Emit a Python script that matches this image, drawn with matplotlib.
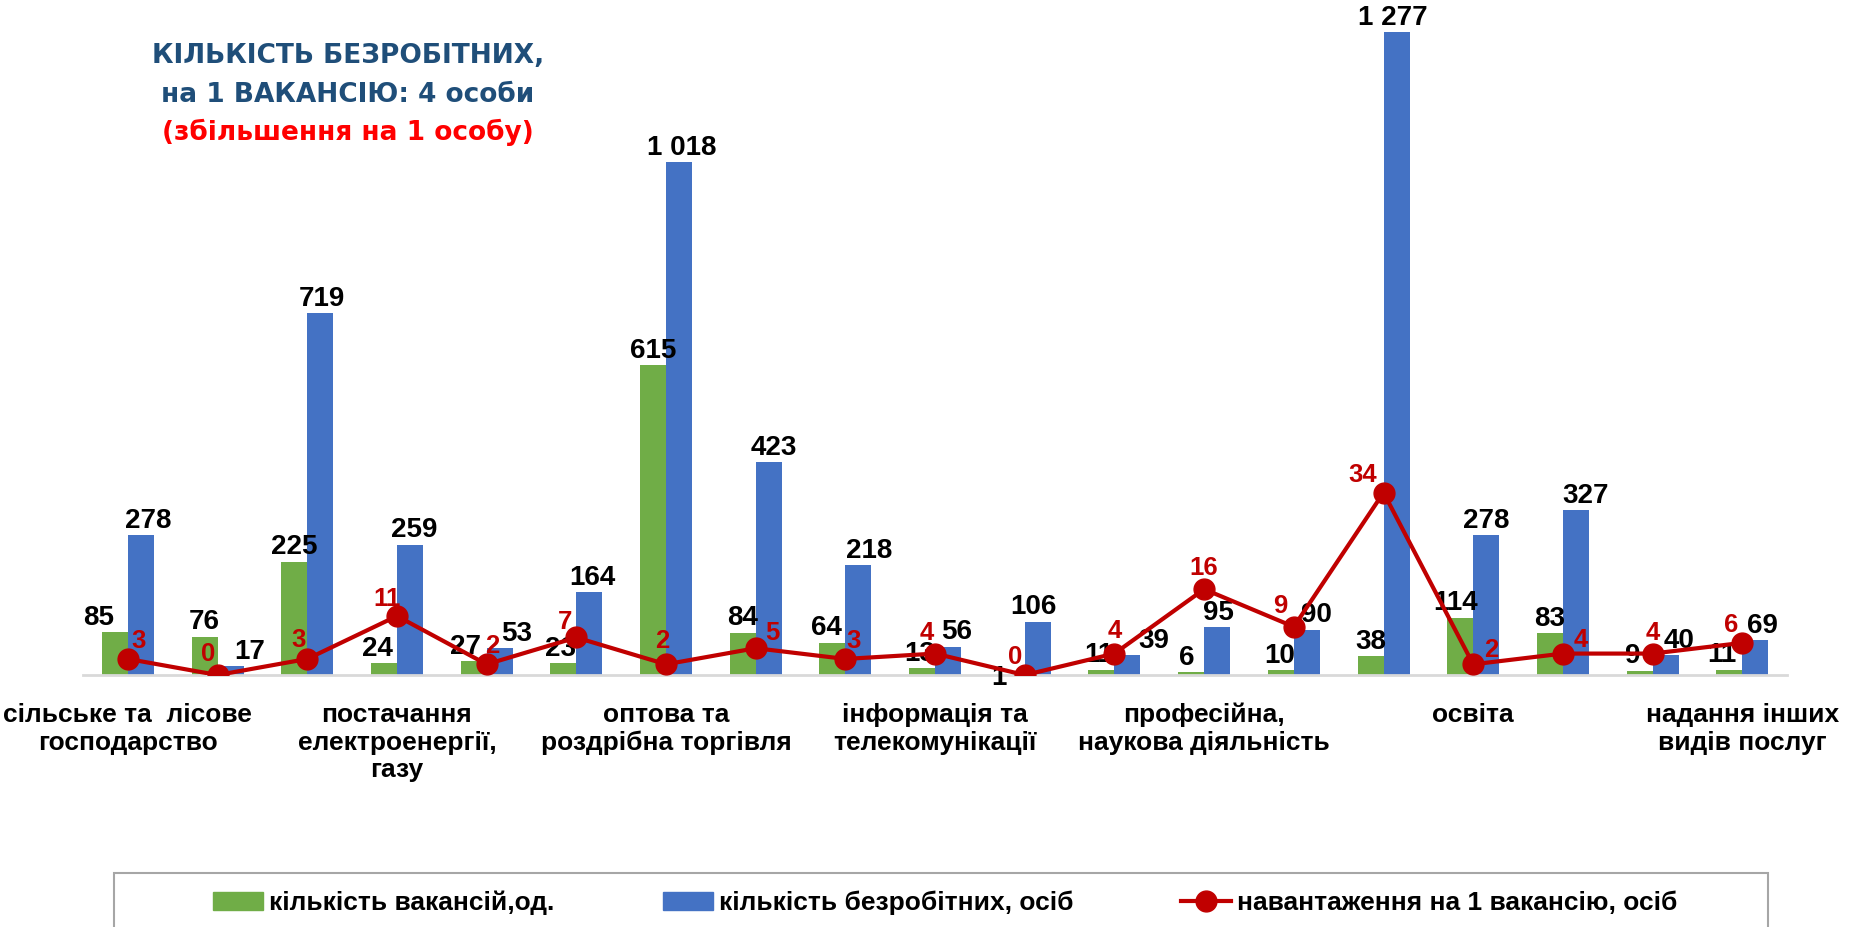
import numpy as np
import matplotlib
matplotlib.use("Agg")
import matplotlib.pyplot as plt
from matplotlib.patches import Rectangle, Patch
from matplotlib.lines import Line2D

# ─── data ────────────────────────────────────────────────────────────────────
vacancies = [85, 76, 225, 24, 27, 23, 615, 84, 64, 13, 1, 11, 6, 10, 38, 114, 83, 9, 11]
unemployed = [278, 17, 719, 259, 53, 164, 1018, 423, 218, 56, 106, 39, 95, 90, 1277, 278, 327, 40, 69]
per_vacancy = [3, 0, 3, 11, 2, 7, 2, 5, 3, 4, 0, 4, 16, 9, 34, 2, 4, 4, 6]

tick_labels = [
    "сільське та  лісове\nгосподарство",
    "постачання\nелектроенергії,\nгазу",
    "оптова та\nроздрібна торгівля",
    "інформація та\nтелекомунікації",
    "професійна,\nнаукова діяльність",
    "освіта",
    "надання інших\nвидів послуг",
]

legend_labels = ["кількість вакансій,од.", "кількість безробітних, осіб",
                 "навантаження на 1 вакансію, осіб"]

title_lines = ["КІЛЬКІСТЬ БЕЗРОБІТНИХ,", "на 1 ВАКАНСІЮ: 4 особи", "(збільшення на 1 особу)"]

# label nudges (points) – style only
green_dx = [-12, 0, 0, -5, -6, -2, 0, 0, -4, -2, -9, -2, -3, -1, 0, -3, 0, -5, -5]
blue_dx = [5, 14, 1, 3, 12, 2, 2, 4, 8, 6, -3, 19, 1, 7, -3, 0, 7, 10, 5]
red_off = [(8, 13), (-7, 15), (-6, 14), (-7, 12), (4, 13), (-8, 11), (-3, 17),
           (12, 11), (6, 13), (-6, 15), (-7, 13), (0, 16), (0, 15), (-10, 15),
           (-15, 13), (13, 10), (13, 10), (0, 15), (-8, 13)]

GREEN = "#70AD47"
BLUE = "#4472C4"
RED = "#C00000"
NARROW = ["Liberation Sans Narrow", "Liberation Sans", "DejaVu Sans"]


def fmt(v):
    return f"{v:,}".replace(",", " ")


fig = plt.figure(figsize=(18.5, 9.27), dpi=100)
ax = fig.add_axes([0.0449, 0.2718, 0.9211, 0.7061])
x = np.arange(len(vacancies))
w = 0.29

ax.bar(x - w / 2, vacancies, w, color=GREEN, zorder=2)
ax.bar(x + w / 2, unemployed, w, color=BLUE, zorder=2)
ax.set_xlim(-0.5, len(x) - 0.5)
ax.set_ylim(0, 1300)

for i, v in enumerate(vacancies):
    dy = -12 if v < 3 else 1
    ax.annotate(str(v), (x[i] - w / 2, v), xytext=(green_dx[i], dy),
                textcoords="offset points", ha="center", va="bottom",
                fontsize=20, fontweight="bold", family=NARROW, zorder=3)
for i, v in enumerate(unemployed):
    ax.annotate(fmt(v), (x[i] + w / 2, v), xytext=(blue_dx[i], 1),
                textcoords="offset points", ha="center", va="bottom",
                fontsize=20, fontweight="bold", family=NARROW, zorder=3)

for s in ["top", "left", "right"]:
    ax.spines[s].set_visible(False)
ax.spines["bottom"].set_color("#D9D9D9")
ax.spines["bottom"].set_linewidth(2)
ax.set_yticks([])
ax.set_xticks(x[::3])
ax.set_xticklabels(tick_labels, fontsize=19, fontweight="bold", family=NARROW)
ax.tick_params(axis="x", length=0, pad=20)

ax2 = ax.twinx()
ax2.set_position(ax.get_position())
ax2.plot(x, per_vacancy, color=RED, linewidth=3, marker="o", markersize=15, zorder=4)
ax2.set_ylim(0, 122)
ax2.set_yticks([])
for s in ["top", "left", "right", "bottom"]:
    ax2.spines[s].set_visible(False)
for i, v in enumerate(per_vacancy):
    ax2.annotate(str(v), (x[i], v), xytext=red_off[i], textcoords="offset points",
                 ha="center", va="center", color=RED, fontsize=18.5,
                 fontweight="bold", family=NARROW, zorder=5)

# title
ty = [0.940, 0.898, 0.857]
tc = ["#1F4E79", "#1F4E79", "#FF0000"]
for line, yy, c in zip(title_lines, ty, tc):
    fig.text(0.188, yy, line, ha="center", va="center", fontsize=19,
             fontweight="bold", color=c)

# legend box
fig.patches.append(Rectangle((0.0616, -0.02), 0.894, 0.078, transform=fig.transFigure,
                             fill=False, edgecolor="#A6A6A6", linewidth=1.5))
handles = [Patch(color=GREEN), Patch(color=BLUE),
           Line2D([0], [0], color=RED, linewidth=3, marker="o", markersize=15)]
fig.legend(handles, legend_labels, loc="center", bbox_to_anchor=(0.511, 0.026),
           ncol=3, frameon=False, handlelength=1.9, handleheight=0.65,
           handletextpad=0.22, columnspacing=4.1,
           prop={"family": NARROW, "weight": "bold", "size": 19})

fig.savefig("out.png", dpi=100)
